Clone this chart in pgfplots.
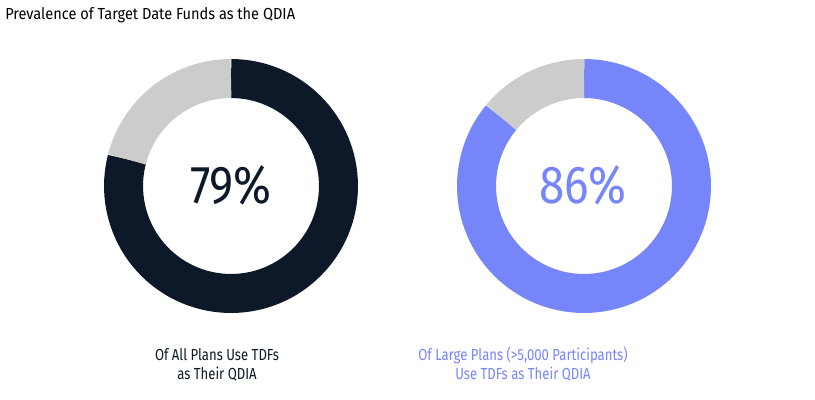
\documentclass[border=0pt]{standalone}
\usepackage{pgfplots}
\usepackage{pgfplotstable}
\pgfplotsset{compat=1.18}
\usepackage{fontspec}
\setmainfont{Fira Sans}[FakeStretch=0.82]
\newfontfamily\titlefont{Fira Sans}[FakeStretch=0.91]
\newfontfamily\numfont{Fira Sans}[FakeStretch=0.86]
\definecolor{navy}{HTML}{0D1929}
\definecolor{peri}{HTML}{7785FA}
\definecolor{restgray}{HTML}{CCCCCC}
% share (%) of plans using TDFs as QDIA
\pgfplotstableread{
group share cx cy
all   79    231 186
large 86    584 186
}\donutdata
\begin{document}
\begin{tikzpicture}
\pgfplotstablegetelem{0}{share}\of\donutdata \edef\shareA{\pgfplotsretval}
\pgfplotstablegetelem{1}{share}\of\donutdata \edef\shareB{\pgfplotsretval}
\begin{axis}[
  scale only axis, width=611.25pt, height=300pt,
  xmin=0, xmax=815, ymin=0, ymax=400, y dir=reverse,
  axis lines=none, clip=false,
]
\path (axis cs:0,0) rectangle (axis cs:815,400);
% donut 1
\pgfmathsetmacro{\endA}{90-3.6*\shareA}
\draw[navy, line width=29.25pt] (axis cs:231,186) ++(90:80.6pt) arc[start angle=90, end angle=\endA, radius=80.6pt];
\draw[restgray, line width=29.25pt] (axis cs:231,186) ++(\endA:80.6pt) arc[start angle=\endA, end angle=-270, radius=80.6pt];
% donut 2
\pgfmathsetmacro{\endB}{90-3.6*\shareB}
\draw[peri, line width=29.25pt] (axis cs:584,186) ++(90:80.6pt) arc[start angle=90, end angle=\endB, radius=80.6pt];
\draw[restgray, line width=29.25pt] (axis cs:584,186) ++(\endB:80.6pt) arc[start angle=\endB, end angle=-270, radius=80.6pt];
% center values
\node[anchor=base, text=navy, font=\numfont\fontsize{40pt}{40pt}\selectfont, inner sep=0pt] at (axis cs:231,203) {\shareA\%};
\node[anchor=base, text=peri, font=\numfont\fontsize{40pt}{40pt}\selectfont, inner sep=0pt] at (axis cs:583,203) {\shareB\%};
% title
\node[anchor=base west, text=black, font=\titlefont\fontsize{12pt}{14pt}\selectfont, inner sep=0pt] at (axis cs:5,19.5) {Prevalence of Target Date Funds as the QDIA};
% labels
\node[anchor=base, text=navy, font=\fontsize{12pt}{14pt}\selectfont, inner sep=0pt] at (axis cs:217,360.5) {Of All Plans Use TDFs};
\node[anchor=base, text=navy, font=\fontsize{12pt}{14pt}\selectfont, inner sep=0pt] at (axis cs:217,379.5) {as Their QDIA};
\node[anchor=base, text=peri, font=\fontsize{12pt}{14pt}\selectfont, inner sep=0pt] at (axis cs:523,360.5) {Of Large Plans (>5,000 Participants)};
\node[anchor=base, text=peri, font=\fontsize{12pt}{14pt}\selectfont, inner sep=0pt] at (axis cs:523,379.5) {Use TDFs as Their QDIA};
\end{axis}
\end{tikzpicture}
\end{document}
